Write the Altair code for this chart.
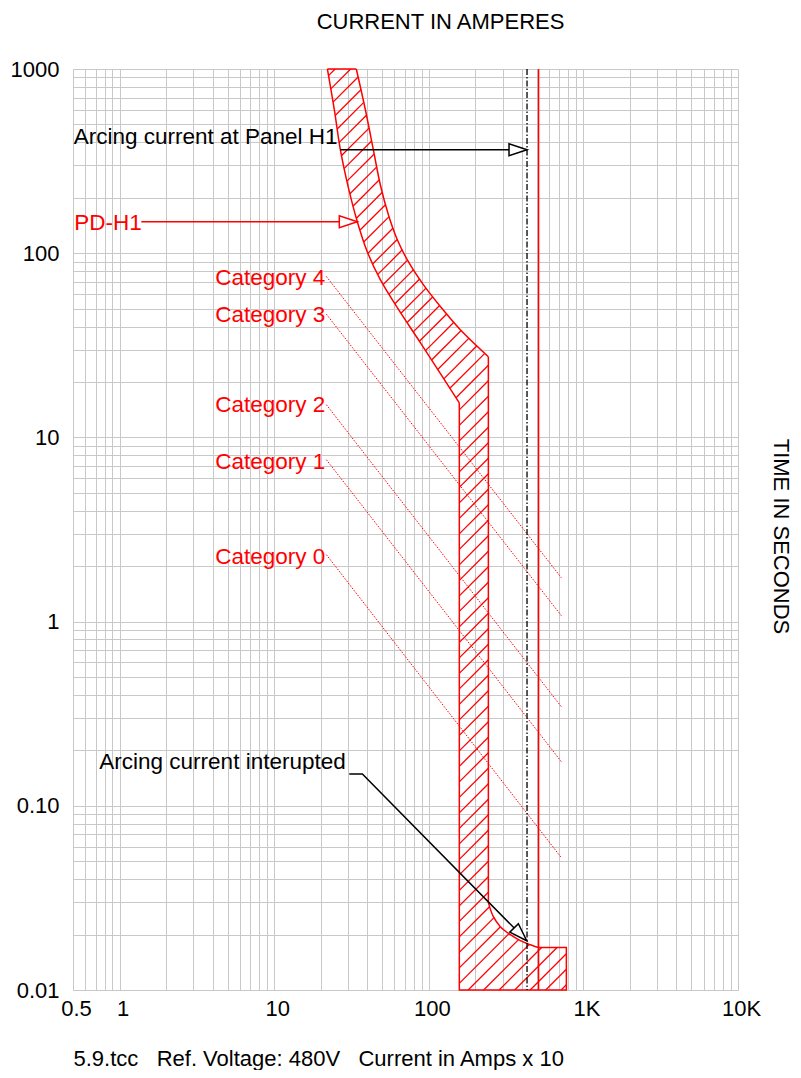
import math
import altair as alt
import pandas as pd

FONT = "Liberation Sans"
FS = 22
TFS = 22.5

# ---------------- axis ticks / grid ----------------
x_tick_values = [0.5, 1, 10, 100, 1000, 10000]
x_tick_labels = ["0.5", "1", "10", "100", "1K", "10K"]
y_tick_values = [0.01, 0.1, 1, 10, 100, 1000]
y_tick_labels = ["0.01", "0.10", "1", "10", "100", "1000"]
grid_steps = [1, 2, 3, 4, 5, 6, 7, 8, 9]
x_decades = [0.1, 1, 10, 100, 1000]
y_decades = [0.01, 0.1, 1, 10, 100]

# ---------------- PD-H1 trip band (current, seconds) ----------------
band_left_x = [22.1, 24.5, 26.8, 30.2, 34.5, 40.0, 48.6, 62.6, 88.2, 157.6, 157.6]
band_left_y = [1000, 601, 364.6, 226.8, 148.3, 101.9, 71.8, 50.6, 32.7, 15.4, 0.01]
band_right_x = [34.0, 38.9, 43.8, 48.6, 54.8, 62.6, 73.8, 92.2, 120.6, 160.0, 242.9,
                242.9, 261.6, 290.3, 337.1, 391.1, 434.1, 513, 776, 776]
band_right_y = [1000, 601, 364.6, 235.4, 161.8, 118.4, 89.9, 67.5, 50.6, 38.4, 27.4,
                0.0298, 0.0250, 0.02207, 0.01996, 0.01852, 0.01784, 0.0170, 0.0170, 0.01]

# ---------------- hazard category lines ----------------
cat_names = ["Category 4", "Category 3", "Category 2", "Category 1", "Category 0"]
cat_label_x = 21.4
cat_label_y = [66.9, 42.3, 13.67, 6.74, 2.055]
cat_line_x0 = 21.75
cat_line_x1 = 720
cat_line_y0 = [74.8, 46.7, 15.05, 7.57, 2.31]
cat_line_y1 = [1.73, 1.077, 0.345, 0.1736, 0.0523]

# ---------------- vertical reference lines ----------------
pd_h1_current = 513
arcing_current = 432

# ---------------- annotations ----------------
panel_arrow_x = [26.8, 432]
panel_arrow_y = [364.6, 364.6]
pd_arrow_x = [1.383, 34.5]
pd_arrow_y = [148.3, 148.3]
intr_arrow_x = [30.6, 37.2, 430]
intr_arrow_y = [0.149, 0.149, 0.0185]

text_left = ["Arcing current at Panel H1", "PD-H1", "Arcing current interupted"]
text_left_x = [0.505, 0.51, 0.74]
text_left_y = [391.6, 134.1, 0.159]
text_left_color = ["black", "red", "black"]

top_title = "CURRENT IN AMPERES"
right_title = "TIME IN SECONDS"
bottom_note = "5.9.tcc\u00a0\u00a0\u00a0Ref. Voltage: 480V\u00a0\u00a0\u00a0Current in Amps x 10"

# ---------------- geometry helpers ----------------
W, H = 665, 921
LX0, LX1 = math.log10(0.5), math.log10(10000)
LY0, LY1 = math.log10(0.01), math.log10(1000)


def to_px(x, y):
    return (W * (math.log10(x) - LX0) / (LX1 - LX0), H * (LY1 - math.log10(y)) / (LY1 - LY0))


def to_data(px, py):
    return (10 ** (LX0 + px / W * (LX1 - LX0)), 10 ** (LY1 - py / H * (LY1 - LY0)))


x_grid = sorted(set(round(m * d, 6) for d in x_decades for m in grid_steps if m * d >= 0.5)) + [10000]
y_grid = sorted(set(round(m * d, 6) for d in y_decades for m in grid_steps)) + [1000]


def label_expr(values, labels):
    expr = "''"
    for v, l in reversed(list(zip(values, labels))):
        expr = f"datum.value == {v} ? '{l}' : {expr}"
    return expr


# band polygon (closed)
poly_x = band_left_x + band_right_x[::-1] + [band_left_x[0]]
poly_y = band_left_y + band_right_y[::-1] + [band_left_y[0]]

# outline pieces: curved parts smoothed, straight parts linear
curve_pieces = [(0, 9), (13, 19), (20, 30)]
straight_pieces = [(9, 13), (19, 20), (30, 31)]


def pieces_df(pieces):
    rows = []
    for pid, (a, b) in enumerate(pieces):
        for k in range(a, b + 1):
            rows.append({"p": pid, "i": k, "x": poly_x[k], "y": poly_y[k]})
    return pd.DataFrame(rows)


curve_df = pieces_df(curve_pieces)
straight_df = pieces_df(straight_pieces)

# hatch segments clipped to polygon
poly_px = [to_px(x, y) for x, y in zip(poly_x, poly_y)]
sums = [p[0] + p[1] for p in poly_px]
HATCH = 15.5
segs = []
c = min(sums) + HATCH / 2
while c < max(sums):
    pts = []
    for (ax, ay), (bx, by) in zip(poly_px[:-1], poly_px[1:]):
        fa = ax + ay - c
        fb = bx + by - c
        if (fa < 0) != (fb < 0):
            t = fa / (fa - fb)
            pts.append((ax + t * (bx - ax), ay + t * (by - ay)))
    pts.sort()
    for k in range(0, len(pts) - 1, 2):
        x1, y1 = to_data(*pts[k])
        x2, y2 = to_data(*pts[k + 1])
        segs.append({"x": x1, "y": y1, "x2": x2, "y2": y2})
    c += HATCH
hatch_df = pd.DataFrame(segs)

cat_df = pd.DataFrame(
    [{"cat": n, "x": cat_line_x0, "y": a} for n, a in zip(cat_names, cat_line_y0)]
    + [{"cat": n, "x": cat_line_x1, "y": b} for n, b in zip(cat_names, cat_line_y1)]
)
cat_text_df = pd.DataFrame({"t": cat_names, "x": [cat_label_x] * 5, "y": cat_label_y})
text_df = pd.DataFrame({"t": text_left, "x": text_left_x, "y": text_left_y, "c": text_left_color})

p1 = to_px(intr_arrow_x[-2], intr_arrow_y[-2])
p2 = to_px(intr_arrow_x[-1], intr_arrow_y[-1])
intr_angle = math.degrees(math.atan2(p2[1] - p1[1], p2[0] - p1[0]))
heads_df = pd.DataFrame({
    "x": [pd_arrow_x[-1], panel_arrow_x[-1], intr_arrow_x[-1]],
    "y": [pd_arrow_y[-1], panel_arrow_y[-1], intr_arrow_y[-1]],
    "angle": [0, 0, intr_angle],
    "c": ["red", "black", "black"],
})

# ---------------- scales / axes ----------------
xscale = alt.Scale(type="log", domain=[0.5, 10000], nice=False)
yscale = alt.Scale(type="log", domain=[0.01, 1000], nice=False)

axis_common = dict(grid=True, gridColor="#c8c8c8", gridOpacity=1, gridWidth=1,
                   ticks=False, domain=False, labelFont=FONT, labelFontSize=FS,
                   labelColor="black", labelOverlap=False, labelFlush=False)
title_common = dict(titleFont=FONT, titleFontSize=FS, titleFontWeight="normal", titleColor="black")

x_main_axis = alt.Axis(orient="bottom", values=x_grid, labelExpr=label_expr(x_tick_values, x_tick_labels),
                       labelPadding=8, labelOffset=3, title=bottom_note,
                       titleAnchor="start", titleAlign="left", titleBaseline="alphabetic",
                       titleX=0, titleY=75, **axis_common, **title_common)
y_main_axis = alt.Axis(orient="left", values=y_grid, labelExpr=label_expr(y_tick_values, y_tick_labels),
                       labelPadding=14, title=None, **axis_common)
y_right_axis = alt.Axis(orient="right", labels=False, ticks=False, domain=False, grid=False,
                        title=right_title, titleAngle=90,
                        titleBaseline="alphabetic", titleAlign="center", titleX=35, titleY=467,
                        **title_common)
x_top_axis = alt.Axis(orient="top", labels=False, ticks=False, domain=False, grid=False,
                      title=top_title, titleAngle=0, titleBaseline="alphabetic", titleAlign="center",
                      titleX=367, titleY=-41, **title_common)


def X(field="x", axis=None):
    return alt.X(f"{field}:Q", scale=xscale, axis=axis)


def Y(field="y", axis=None):
    return alt.Y(f"{field}:Q", scale=yscale, axis=axis)


cats = alt.Chart(cat_df).mark_line(color="red", strokeWidth=1, strokeDash=[1.5, 1.5]).encode(
    x=X(axis=x_main_axis), y=Y(axis=y_main_axis), detail="cat:N")

hatch = alt.Chart(hatch_df).mark_rule(color="red", strokeWidth=1.3).encode(
    x=X(), y=Y(), x2="x2:Q", y2="y2:Q")

outline_curves = alt.Chart(curve_df).mark_line(
    color="red", strokeWidth=1.5, interpolate="catmull-rom").encode(
    x=X(), y=Y(), order="i:Q", detail="p:N")
outline_straight = alt.Chart(straight_df).mark_line(color="red", strokeWidth=1.5).encode(
    x=X(), y=Y(), order="i:Q", detail="p:N")

vline_red = alt.Chart(pd.DataFrame({"x": [pd_h1_current]})).mark_rule(
    color="red", strokeWidth=1.5).encode(x=X())
vline_black = alt.Chart(pd.DataFrame({"x": [arcing_current]})).mark_rule(
    color="black", strokeWidth=1.3, strokeDash=[6, 2, 1.5, 2]).encode(x=X())

pd_arrow = alt.Chart(pd.DataFrame({"x": pd_arrow_x, "y": pd_arrow_y, "i": range(2)})).mark_line(
    color="red", strokeWidth=1.5).encode(x=X(), y=Y(), order="i:Q")
panel_arrow = alt.Chart(pd.DataFrame({"x": panel_arrow_x, "y": panel_arrow_y, "i": range(2)})).mark_line(
    color="black", strokeWidth=1.5).encode(x=X(), y=Y(), order="i:Q")
intr_arrow = alt.Chart(pd.DataFrame({"x": intr_arrow_x, "y": intr_arrow_y, "i": range(3)})).mark_line(
    color="black", strokeWidth=1.5).encode(x=X(), y=Y(), order="i:Q")

heads = alt.Chart(heads_df).mark_point(
    shape="M0,0L-2,-0.667L-2,0.667Z", filled=True, fill="white", size=324,
    strokeWidth=1.5, opacity=1).encode(
    x=X(), y=Y(), angle=alt.Angle("angle:Q", scale=None), stroke=alt.Color("c:N", scale=None))

cat_text = alt.Chart(cat_text_df).mark_text(
    align="right", baseline="alphabetic", font=FONT, fontSize=TFS, color="red").encode(
    x=X(axis=x_top_axis), y=Y(), text="t:N")

texts = alt.Chart(text_df).mark_text(
    align="left", baseline="alphabetic", font=FONT, fontSize=TFS).encode(
    x=X(), y=Y(axis=y_right_axis), text="t:N", color=alt.Color("c:N", scale=None))

chart = alt.layer(
    cats, hatch, outline_curves, outline_straight, vline_black, vline_red,
    pd_arrow, panel_arrow, intr_arrow, heads, cat_text, texts
).resolve_axis(x="independent", y="independent").properties(
    width=W, height=H,
    autosize=alt.AutoSizeParams(type="none"),
    padding={"left": 65, "top": 61, "right": 55, "bottom": 80},
).configure_view(stroke=None).configure(background="white")

chart.save("out.html", embed_options={"renderer": "svg", "actions": False})
